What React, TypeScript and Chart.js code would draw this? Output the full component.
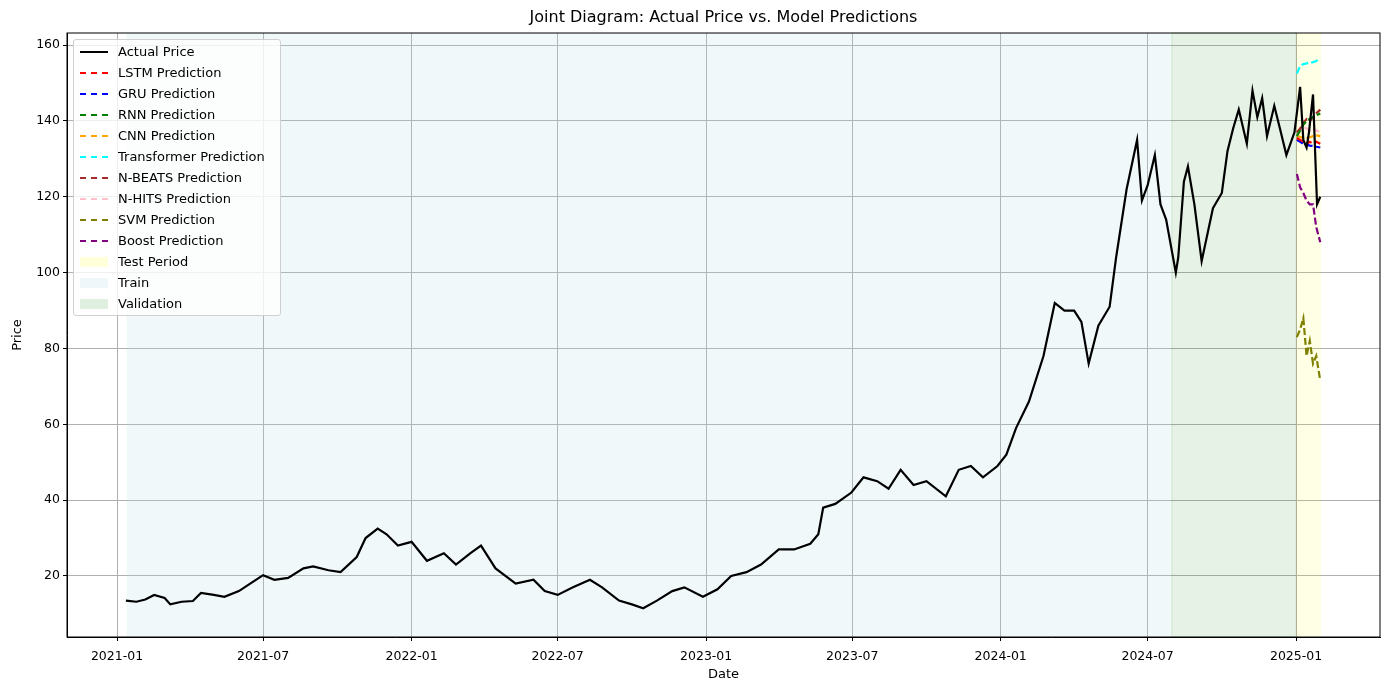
import { useEffect, useRef } from 'react';
import { Chart, registerables } from 'chart.js';

Chart.register(...registerables);

const BASE = Date.UTC(2021, 0, 1);
const day = (s: string) => (Date.parse(s + 'T00:00:00Z') - BASE) / 86400000;

const actualDates = [
  '2021-01-12', '2021-01-25', '2021-02-05', '2021-02-16', '2021-03-01', '2021-03-08', '2021-03-22', '2021-04-05', '2021-04-15', '2021-05-01',
  '2021-05-14', '2021-06-01', '2021-06-15', '2021-07-01', '2021-07-15', '2021-08-01', '2021-08-20', '2021-09-01', '2021-09-20', '2021-10-05',
  '2021-10-25', '2021-11-05', '2021-11-20', '2021-12-01', '2021-12-15', '2022-01-01', '2022-01-20', '2022-02-10', '2022-02-25', '2022-03-15',
  '2022-03-28', '2022-04-15', '2022-05-10', '2022-06-01', '2022-06-15', '2022-07-01', '2022-07-20', '2022-08-10', '2022-08-25', '2022-09-15',
  '2022-10-01', '2022-10-15', '2022-11-01', '2022-11-20', '2022-12-05', '2022-12-28', '2023-01-15', '2023-02-01', '2023-02-20', '2023-03-10',
  '2023-04-01', '2023-04-20', '2023-05-10', '2023-05-20', '2023-05-26', '2023-06-10', '2023-06-30', '2023-07-15', '2023-08-01', '2023-08-15',
  '2023-08-30', '2023-09-15', '2023-10-01', '2023-10-25', '2023-11-10', '2023-11-25', '2023-12-10', '2023-12-28', '2024-01-08', '2024-01-20',
  '2024-02-05', '2024-02-23', '2024-03-08', '2024-03-20', '2024-04-01', '2024-04-10', '2024-04-19', '2024-05-01', '2024-05-15', '2024-05-23',
  '2024-06-05', '2024-06-18', '2024-06-24', '2024-07-01', '2024-07-10', '2024-07-17', '2024-07-24', '2024-08-05', '2024-08-08', '2024-08-15',
  '2024-08-20', '2024-08-28', '2024-09-06', '2024-09-10', '2024-09-20', '2024-10-01', '2024-10-08', '2024-10-15', '2024-10-22', '2024-11-01',
  '2024-11-08', '2024-11-14', '2024-11-20', '2024-11-26', '2024-12-05', '2024-12-12', '2024-12-20', '2024-12-30', '2025-01-06', '2025-01-10',
  '2025-01-14', '2025-01-17', '2025-01-22', '2025-01-27', '2025-01-31',
];
const actualPrices = [
  13.5, 13.2, 13.8, 15.0, 14.2, 12.5, 13.2, 13.4, 15.5, 15.0,
  14.5, 16.0, 18.0, 20.2, 19.0, 19.5, 22.0, 22.5, 21.5, 21.0,
  25.0, 30.0, 32.5, 31.0, 28.0, 29.0, 24.0, 26.0, 23.0, 26.0,
  28.0, 22.0, 18.0, 19.0, 16.0, 15.0, 17.0, 19.0, 17.0, 13.5,
  12.5, 11.5, 13.5, 16.0, 17.0, 14.5, 16.5, 20.0, 21.0, 23.0,
  27.0, 27.0, 28.5, 31.0, 38.0, 39.0, 42.0, 46.0, 45.0, 43.0,
  48.0, 44.0, 45.0, 41.0, 48.0, 49.0, 46.0, 49.0, 52.0, 59.0,
  66.0, 78.0, 92.0, 90.0, 90.0, 87.0, 76.0, 86.0, 91.0, 104.0,
  122.0, 135.0, 119.0, 123.0, 131.0, 118.0, 114.0, 100.0, 104.0, 124.0,
  128.0, 118.0, 103.0, 107.0, 117.0, 121.0, 132.0, 138.0, 143.0, 134.0,
  148.0, 141.0, 146.0, 136.0, 144.0, 138.0, 131.0, 137.0, 149.0, 135.0,
  133.0, 137.0, 147.0, 118.0, 120.0,
];

const predDates = ['2025-01-02', '2025-01-06', '2025-01-10', '2025-01-14', '2025-01-18', '2025-01-22', '2025-01-26', '2025-01-31'];
const lstm = [135.5, 135.0, 134.5, 134.0, 134.5, 134.0, 134.5, 134.0];
const gru = [135.0, 134.5, 134.0, 133.8, 133.5, 133.4, 133.2, 133.0];
const rnn = [136.0, 137.5, 139.0, 140.0, 140.5, 141.0, 141.5, 142.0];
const cnn = [136.0, 135.8, 135.5, 135.5, 135.7, 136.0, 136.2, 136.0];
const transformer = [152.5, 154.5, 155.0, 155.2, 155.3, 155.5, 155.8, 156.5];
const nbeats = [137.0, 138.0, 139.5, 140.5, 140.0, 141.0, 142.0, 143.0];
const nhits = [137.0, 137.5, 138.5, 138.0, 137.5, 138.0, 137.5, 137.0];
const svm = [83.0, 85.0, 88.0, 78.0, 82.0, 76.0, 78.0, 71.5];
const boost = [126.0, 122.5, 121.0, 119.0, 118.0, 118.0, 112.0, 108.0];

const xTickLabels = ['2021-01', '2021-07', '2022-01', '2022-07', '2023-01', '2023-07', '2024-01', '2024-07', '2025-01'];
const yTickValues = [20, 40, 60, 80, 100, 120, 140, 160];

const trainRange = ['2021-01-13', '2024-07-31'];
const validationRange = ['2024-07-31', '2025-01-01'];
const testRange = ['2025-01-01', '2025-02-01'];

const predSeries = [
  { label: 'LSTM Prediction', data: lstm, color: '#ff0000' },
  { label: 'GRU Prediction', data: gru, color: '#0000ff' },
  { label: 'RNN Prediction', data: rnn, color: '#008000' },
  { label: 'CNN Prediction', data: cnn, color: '#ffa500' },
  { label: 'Transformer Prediction', data: transformer, color: '#00ffff' },
  { label: 'N-BEATS Prediction', data: nbeats, color: '#a52a2a' },
  { label: 'N-HITS Prediction', data: nhits, color: '#ffc0cb' },
  { label: 'SVM Prediction', data: svm, color: '#808000' },
  { label: 'Boost Prediction', data: boost, color: '#800080' },
];

const FONT = "'DejaVu Sans', sans-serif";

export default function App() {
  const canvasRef = useRef<HTMLCanvasElement>(null);

  useEffect(() => {
    document.body.style.margin = '0';
    if (!canvasRef.current) return;

    const bands = {
      id: 'bands',
      beforeDatasetsDraw(chart: any) {
        const { ctx, chartArea: a, scales } = chart;
        const x = scales.x;
        const fill = (r: string[], c: string, edge?: string) => {
          const x0 = x.getPixelForValue(day(r[0]));
          const x1 = x.getPixelForValue(day(r[1]));
          ctx.fillStyle = c;
          ctx.fillRect(x0, a.top, x1 - x0, a.bottom - a.top);
          if (edge) {
            ctx.strokeStyle = edge;
            ctx.lineWidth = 1;
            ctx.strokeRect(x0, a.top, x1 - x0, a.bottom - a.top);
          }
        };
        ctx.save();
        fill(trainRange, 'rgba(173,216,230,0.18)');
        fill(validationRange, 'rgba(0,128,0,0.1)', 'rgba(0,128,0,0.12)');
        fill(testRange, 'rgba(255,255,0,0.1)');
        ctx.restore();
      },
      afterDraw(chart: any) {
        const { ctx, chartArea: a } = chart;
        ctx.save();
        ctx.strokeStyle = '#000';
        ctx.lineWidth = 1;
        ctx.strokeRect(a.left, a.top, a.right - a.left, a.bottom - a.top);
        ctx.fillStyle = '#000';
        ctx.font = `16px ${FONT}`;
        ctx.textAlign = 'center';
        ctx.textBaseline = 'middle';
        ctx.fillText('Joint Diagram: Actual Price vs. Model Predictions', (a.left + a.right) / 2, 18);
        ctx.restore();
      },
    };

    const chart = new Chart(canvasRef.current, {
      type: 'line',
      data: {
        datasets: [
          {
            label: 'Actual Price',
            data: actualDates.map((d, i) => ({ x: day(d), y: actualPrices[i] })),
            borderColor: '#000',
            borderWidth: 2.2,
            pointRadius: 0,
            tension: 0,
          },
          ...predSeries.map((s) => ({
            label: s.label,
            data: predDates.map((d, i) => ({ x: day(d), y: s.data[i] })),
            borderColor: s.color,
            borderWidth: 2.2,
            borderDash: [7, 3],
            pointRadius: 0,
            tension: 0,
          })),
        ],
      },
      options: {
        animation: false,
        responsive: false,
        layout: { padding: { top: 33, right: 9, left: 6, bottom: 8 } },
        plugins: { legend: { display: false }, tooltip: { enabled: false } },
        scales: {
          x: {
            type: 'linear',
            min: -62,
            max: 1565,
            afterFit: (s: any) => { s.height = 45; },
            afterBuildTicks: (s: any) => {
              s.ticks = xTickLabels.map((t) => ({ value: day(t + '-01') }));
            },
            ticks: {
              color: '#000',
              font: { family: FONT, size: 12.5 },
              maxRotation: 0,
              padding: 8,
              callback: (v: any) => {
                const i = xTickLabels.findIndex((t) => day(t + '-01') === v);
                return i >= 0 ? xTickLabels[i] : '';
              },
            },
            grid: { color: '#b0b0b0', tickColor: '#000', tickLength: 4 },
            border: { color: '#000' },
            title: { display: true, text: 'Date', color: '#000', font: { family: FONT, size: 13 }, padding: { top: 0, bottom: 0 } },
          },
          y: {
            min: 3.9,
            max: 163.2,
            afterFit: (s: any) => { s.width = 61; },
            afterBuildTicks: (s: any) => {
              s.ticks = yTickValues.map((v) => ({ value: v }));
            },
            ticks: { color: '#000', font: { family: FONT, size: 12.5 } },
            grid: { color: '#b0b0b0', tickColor: '#000', tickLength: 4 },
            border: { color: '#000' },
            title: { display: true, text: 'Price', color: '#000', font: { family: FONT, size: 13 }, padding: { bottom: 2 } },
          },
        },
      },
      plugins: [bands],
    });

    return () => chart.destroy();
  }, []);

  const legendItems = [
    { label: 'Actual Price', color: '#000', kind: 'solid' },
    ...predSeries.map((s) => ({ label: s.label, color: s.color, kind: 'dash' })),
    { label: 'Test Period', color: 'rgba(255,255,0,0.15)', kind: 'box' },
    { label: 'Train', color: 'rgba(173,216,230,0.2)', kind: 'box' },
    { label: 'Validation', color: 'rgba(0,128,0,0.12)', kind: 'box' },
  ];

  return (
    <div style={{ position: 'relative', width: 1389, height: 690 }}>
      <canvas ref={canvasRef} width={1389} height={690} style={{ display: 'block' }} />
      <div
        style={{
          position: 'absolute', left: 73, top: 39, width: 208, height: 277, boxSizing: 'border-box',
          background: 'rgba(255,255,255,0.8)', border: '1px solid #d0d0d0', borderRadius: 3,
          fontFamily: FONT, fontSize: 13, color: '#000', padding: '1px 0 0 6px',
        }}
      >
        {legendItems.map((it) => (
          <div key={it.label} style={{ display: 'flex', alignItems: 'center', height: 21 }}>
            <div style={{ width: 28, marginRight: 10, display: 'flex', alignItems: 'center' }}>
              {it.kind === 'box' ? (
                <div style={{ width: 28, height: 10, background: it.color }} />
              ) : (
                <div
                  style={{
                    width: 28, height: 0,
                    borderTop: `2.5px ${it.kind === 'dash' ? 'dashed' : 'solid'} ${it.color}`,
                  }}
                />
              )}
            </div>
            <span>{it.label}</span>
          </div>
        ))}
      </div>
    </div>
  );
}
